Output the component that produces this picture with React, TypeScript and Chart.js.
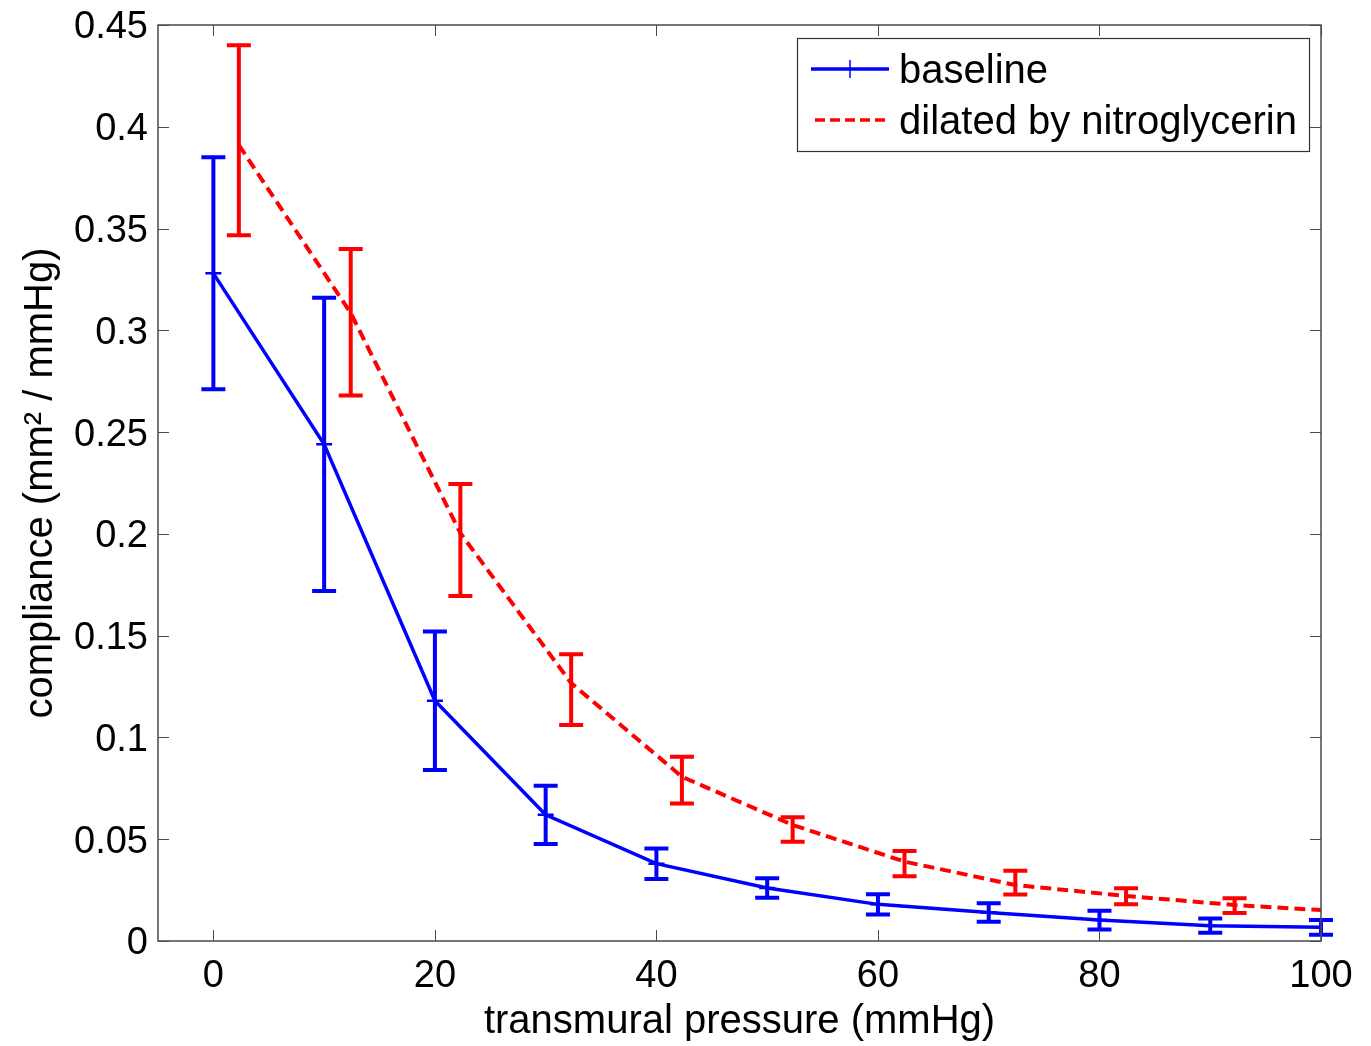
import React, { useEffect, useRef } from "react";
import { Chart, registerables } from "chart.js";

Chart.register(...registerables);

// ---- data ----
const xTickValues = [0, 20, 40, 60, 80, 100];
const xTickLabels = ["0", "20", "40", "60", "80", "100"];
const yTickValues = [0, 0.05, 0.1, 0.15, 0.2, 0.25, 0.3, 0.35, 0.4, 0.45];
const yTickLabels = ["0", "0.05", "0.1", "0.15", "0.2", "0.25", "0.3", "0.35", "0.4", "0.45"];

const baselinePressure = [0, 10, 20, 30, 40, 50, 60, 70, 80, 90, 100];
const baselineCompliance = [0.328, 0.244, 0.118, 0.062, 0.038, 0.026, 0.018, 0.014, 0.0103, 0.0075, 0.0067];
const baselineError = [0.057, 0.072, 0.034, 0.0143, 0.0075, 0.0048, 0.005, 0.0045, 0.0046, 0.0035, 0.0036];

const dilatedBarPressure = [2.3, 12.4, 22.3, 32.3, 42.3, 52.3, 62.4, 72.4, 82.4, 92.2];
const dilatedBarCompliance = [0.3934, 0.304, 0.197, 0.1235, 0.079, 0.0548, 0.038, 0.0287, 0.022, 0.0174];
const dilatedBarError = [0.0467, 0.036, 0.0275, 0.0174, 0.0115, 0.006, 0.0062, 0.0058, 0.0039, 0.0036];

const dilatedLinePressure = [2.3, 12.4, 22.3, 32.3, 42.3, 52.3, 62.4, 72.4, 82.4, 92.2, 100];
const dilatedLineCompliance = [0.391, 0.3085, 0.2004, 0.1267, 0.0807, 0.057, 0.039, 0.0275, 0.0221, 0.0177, 0.0152];

const legendLabels = ["baseline", "dilated by nitroglycerin"];

const BLUE = "#0000ff";
const RED = "#ff0000";
const FONT = '"Liberation Sans", Arial, Helvetica, sans-serif';

const toPoints = (xs: number[], ys: number[]) => xs.map((x, i) => ({ x, y: ys[i] }));

const errorBarPlugin = {
  id: "errorBars",
  afterDatasetsDraw(chart: any) {
    const { ctx, scales } = chart;
    const xs = scales.x;
    const ys = scales.y;
    chart.data.datasets.forEach((ds: any) => {
      const err: number[] | undefined = ds.errorBars;
      if (!err) return;
      ctx.save();
      ctx.strokeStyle = ds.errorColor;
      ctx.lineWidth = 4;
      ctx.setLineDash([]);
      ctx.lineCap = "butt";
      const cap = 12;
      ds.data.forEach((p: any, j: number) => {
        const px = xs.getPixelForValue(p.x);
        const top = ys.getPixelForValue(p.y + err[j]);
        const bot = ys.getPixelForValue(p.y - err[j]);
        ctx.beginPath();
        ctx.moveTo(px, top - 2);
        ctx.lineTo(px, bot + 2);
        ctx.moveTo(px - cap, top);
        ctx.lineTo(px + cap, top);
        ctx.moveTo(px - cap, bot);
        ctx.lineTo(px + cap, bot);
        ctx.stroke();
      });
      ctx.restore();
    });
  },
};

const frameAndLegendPlugin = {
  id: "frameLegend",
  afterDraw(chart: any) {
    const { ctx, chartArea, scales } = chart;
    const { left, right, top, bottom } = chartArea;
    ctx.save();
    // axes box
    ctx.strokeStyle = "#4a4a4a";
    ctx.lineWidth = 1.5;
    ctx.setLineDash([]);
    ctx.strokeRect(left, top, right - left, bottom - top);
    // inward tick marks on all four sides
    ctx.lineWidth = 1;
    const tl = 11;
    ctx.beginPath();
    xTickValues.forEach((v) => {
      const px = Math.round(scales.x.getPixelForValue(v)) + 0.5;
      ctx.moveTo(px, bottom);
      ctx.lineTo(px, bottom - tl);
      ctx.moveTo(px, top);
      ctx.lineTo(px, top + tl);
    });
    yTickValues.forEach((v) => {
      const py = Math.round(scales.y.getPixelForValue(v)) + 0.5;
      ctx.moveTo(left, py);
      ctx.lineTo(left + tl, py);
      ctx.moveTo(right, py);
      ctx.lineTo(right - tl, py);
    });
    ctx.stroke();

    // legend
    const bx = right - 524;
    const by = top + 13;
    const bw = 512;
    const bh = 113;
    ctx.fillStyle = "#ffffff";
    ctx.fillRect(bx, by, bw, bh);
    ctx.strokeStyle = "#333333";
    ctx.lineWidth = 1.2;
    ctx.strokeRect(bx + 0.5, by + 0.5, bw, bh);

    const row1 = by + 31;
    const row2 = by + 82;
    // baseline sample
    ctx.strokeStyle = BLUE;
    ctx.lineWidth = 3.5;
    ctx.beginPath();
    ctx.moveTo(bx + 14, row1);
    ctx.lineTo(bx + 92, row1);
    ctx.stroke();
    ctx.lineWidth = 1.5;
    ctx.beginPath();
    ctx.moveTo(bx + 53, row1 - 9);
    ctx.lineTo(bx + 53, row1 + 9);
    ctx.stroke();
    // dilated sample
    ctx.strokeStyle = RED;
    ctx.lineWidth = 3.5;
    ctx.setLineDash([10, 5]);
    ctx.beginPath();
    ctx.moveTo(bx + 18, row2);
    ctx.lineTo(bx + 92, row2);
    ctx.stroke();
    ctx.setLineDash([]);

    ctx.fillStyle = "#000000";
    ctx.font = `40px ${FONT}`;
    ctx.textBaseline = "middle";
    ctx.textAlign = "left";
    ctx.fillText(legendLabels[0], bx + 102, row1 + 3);
    ctx.fillText(legendLabels[1], bx + 102, row2 + 3);
    ctx.restore();
  },
};

export default function App() {
  const ref = useRef<HTMLCanvasElement>(null);

  useEffect(() => {
    const canvas = ref.current;
    if (!canvas) return;
    const chart = new Chart(canvas, {
      type: "scatter",
      data: {
        datasets: [
          {
            label: legendLabels[1],
            data: toPoints(dilatedLinePressure, dilatedLineCompliance),
            showLine: true,
            borderColor: RED,
            borderWidth: 4,
            borderDash: [11, 6],
            pointRadius: 0,
            tension: 0,
          } as any,
          {
            label: "dilated error",
            data: toPoints(dilatedBarPressure, dilatedBarCompliance),
            showLine: false,
            pointRadius: 0,
            errorBars: dilatedBarError,
            errorColor: RED,
          } as any,
          {
            label: legendLabels[0],
            data: toPoints(baselinePressure, baselineCompliance),
            showLine: true,
            borderColor: BLUE,
            backgroundColor: BLUE,
            borderWidth: 3.5,
            pointStyle: "cross",
            pointRadius: 8,
            pointBorderWidth: 2.5,
            pointBorderColor: BLUE,
            tension: 0,
            errorBars: baselineError,
            errorColor: BLUE,
          } as any,
        ],
      },
      options: {
        animation: false,
        responsive: false,
        maintainAspectRatio: false,
        layout: { padding: { top: 25, right: 50, left: 0, bottom: 0 } },
        plugins: {
          legend: { display: false },
          tooltip: { enabled: false },
        },
        scales: {
          x: {
            type: "linear",
            min: -5,
            max: 100,
            grid: { display: false, drawTicks: false },
            border: { display: false },
            afterBuildTicks: (scale: any) => {
              scale.ticks = xTickValues.map((v) => ({ value: v }));
            },
            afterFit: (scale: any) => {
              scale.height = 105;
              scale.paddingLeft = 0;
              scale.paddingRight = 0;
              scale.paddingTop = 0;
              scale.paddingBottom = 0;
            },
            ticks: {
              color: "#000",
              padding: 13,
              maxRotation: 0,
              autoSkip: false,
              font: { family: FONT, size: 38 },
              callback: (value: any) => {
                const i = xTickValues.indexOf(Number(value));
                return i >= 0 ? xTickLabels[i] : "";
              },
            },
            title: {
              display: true,
              text: "transmural pressure (mmHg)",
              color: "#000",
              font: { family: FONT, size: 40 },
              padding: { top: 0, bottom: 0 },
            },
          },
          y: {
            type: "linear",
            min: 0,
            max: 0.45,
            grid: { display: false, drawTicks: false },
            border: { display: false },
            afterBuildTicks: (scale: any) => {
              scale.ticks = yTickValues.map((v) => ({ value: v }));
            },
            afterFit: (scale: any) => {
              scale.width = 158;
              scale.paddingLeft = 0;
              scale.paddingRight = 0;
              scale.paddingTop = 0;
              scale.paddingBottom = 0;
            },
            ticks: {
              color: "#000",
              padding: 10,
              labelOffset: 3,
              autoSkip: false,
              font: { family: FONT, size: 38 },
              callback: (value: any) => {
                const i = yTickValues.findIndex((v) => Math.abs(v - Number(value)) < 1e-9);
                return i >= 0 ? yTickLabels[i] : "";
              },
            },
            title: {
              display: true,
              text: "compliance (mm² / mmHg)",
              color: "#000",
              font: { family: FONT, size: 40 },
              padding: { top: 17, bottom: 0 },
            },
          },
        },
      } as any,
      plugins: [errorBarPlugin, frameAndLegendPlugin],
    });
    return () => chart.destroy();
  }, []);

  return (
    <div style={{ position: "fixed", left: 0, top: 0, width: 1371, height: 1046, background: "#ffffff" }}>
      <canvas ref={ref} width={1371} height={1046} style={{ display: "block", width: 1371, height: 1046 }} />
    </div>
  );
}
